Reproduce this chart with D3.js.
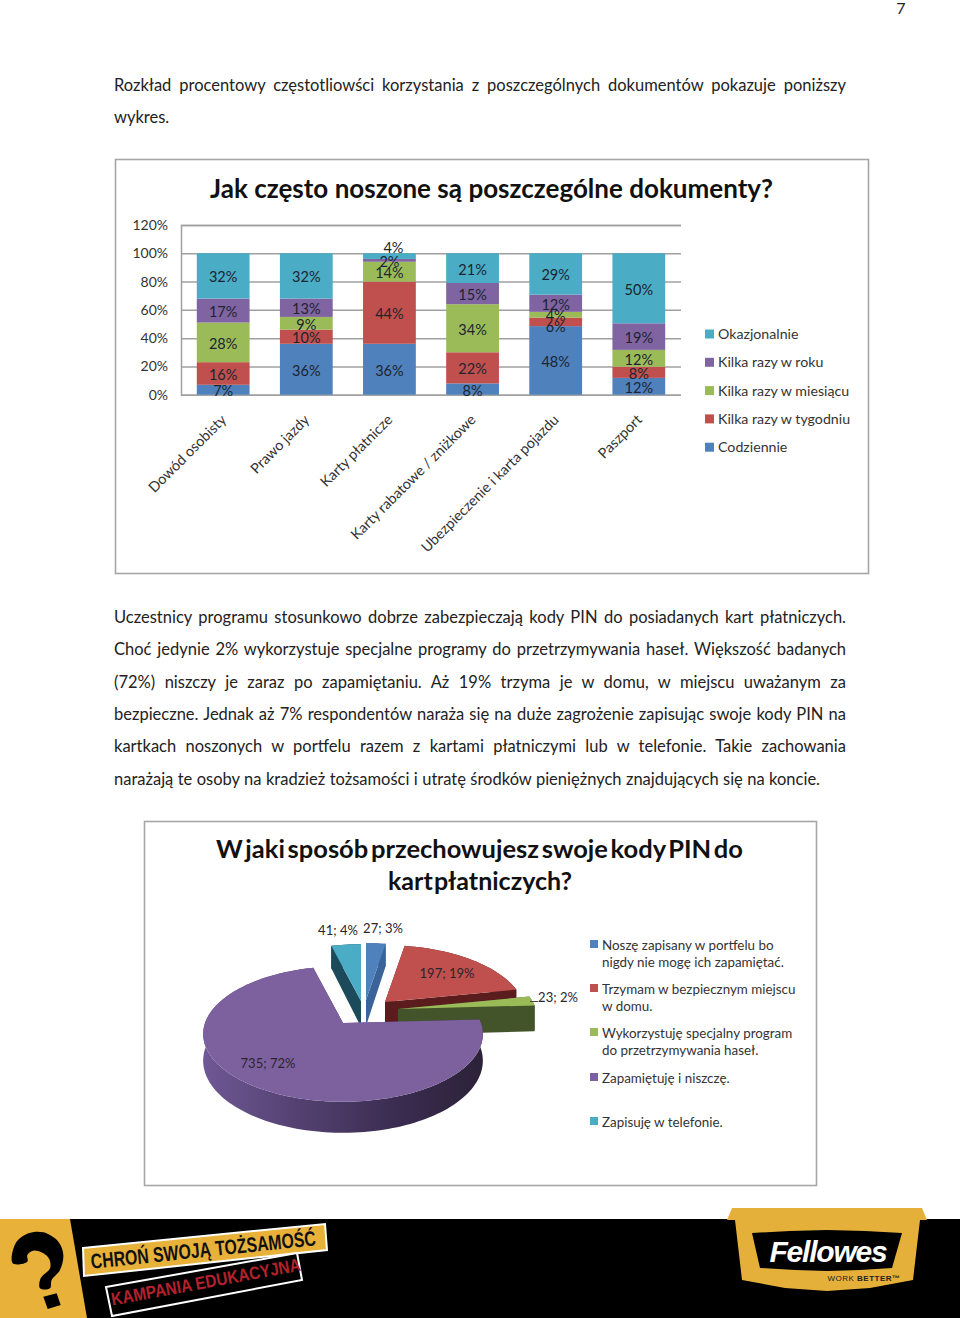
<!DOCTYPE html>
<html><head><meta charset="utf-8">
<script src="https://cdn.jsdelivr.net/npm/d3@7"></script>
<style>html,body{margin:0;padding:0;background:#fff}svg{display:block}text{font-family:Lato,sans-serif}</style>
</head><body><svg id="c" width="960" height="1318"></svg>
<script>
// ---- data
const categories = ["Dowód osobisty","Prawo jazdy","Karty płatnicze","Karty rabatowe / zniżkowe","Ubezpieczenie i karta pojazdu","Paszport"];
const seriesNames = ["Codziennie","Kilka razy w tygodniu","Kilka razy w miesiącu","Kilka razy w roku","Okazjonalnie"];
const codziennie = [7,36,36,8,48,12];
const tygodniu = [16,10,44,22,6,8];
const miesiacu = [28,9,14,34,4,12];
const roku = [17,13,2,15,12,19];
const okazjonalnie = [32,32,4,21,29,50];
const barColors = ["#4f81bd","#c0504d","#9bbb59","#8064a2","#4bacc6"];
const yTicks = [0,0.2,0.4,0.6,0.8,1,1.2];

const pieLabels = ["Noszę zapisany w portfelu bo nigdy nie mogę ich zapamiętać.","Trzymam w bezpiecznym miejscu w domu.","Wykorzystuję specjalny program do przetrzymywania haseł.","Zapamiętuję i niszczę.","Zapisuję w telefonie."];
const pieValues = [27,197,23,735,41];
const piePercents = [3,19,2,72,4];
const pieColors = ["#4f81bd","#c0504d","#9bbb59","#7d619f","#4bacc6"];
const pieWalls = ["#3a6399","#5a1c1c","#44542a","url(#pw)","#1c4a5a"];

const para1 = [["Rozkład procentowy częstotliowści korzystania z poszczególnych dokumentów pokazuje poniższy",846],["wykres.",170]];
const para2 = [["Uczestnicy programu stosunkowo dobrze zabezpieczają kody PIN do posiadanych kart płatniczych.",846],
["Choć jedynie 2% wykorzystuje specjalne programy do przetrzymywania haseł. Większość badanych",846],
["(72%) niszczy je zaraz po zapamiętaniu. Aż 19% trzyma je w domu, w miejscu uważanym za",846],
["bezpieczne. Jednak aż 7% respondentów naraża się na duże zagrożenie zapisując swoje kody PIN na",846],
["kartkach noszonych w portfelu razem z kartami płatniczymi lub w telefonie. Takie zachowania",846],
["narażają te osoby na kradzież tożsamości i utratę środków pieniężnych znajdujących się na koncie.",820]];

// ---- helpers
const svg = d3.select("#c");
function fit(sel, x0, x1){ // word-space a line so that it spans x0..x1
  const n = sel.text().split(" ").length-1;
  const w = sel.node().getComputedTextLength();
  if(n>0) sel.attr("word-spacing",((x1-x0)-w)/n);
}
function bodyLines(lines, ys){
  lines.forEach((l,i)=>{
    const t = svg.append("text").attr("x",114).attr("y",ys[i]).attr("font-size",16.5).attr("fill","#222").text(l[0]);
    fit(t,114,l[1]);
  });
}
svg.append("text").attr("x",901).attr("y",14).attr("text-anchor","middle").attr("font-size",16).attr("fill","#222").text("7");
bodyLines(para1,[91,123]);
bodyLines(para2,[623,655,688,720,752,785]);

// ---- frames
[[115.5,159.5,753,414],[144.5,821.5,672,364]].forEach(f=>
  svg.append("rect").attr("x",f[0]).attr("y",f[1]).attr("width",f[2]).attr("height",f[3]).attr("fill","#fff").attr("stroke","#a6a6a6").attr("stroke-width",1.6));

// ---- stacked bars
const title1 = svg.append("text").attr("x",210).attr("y",198).attr("font-size",26).attr("font-weight",700).attr("fill","#111").text("Jak często noszone są poszczególne dokumenty?");
fit(title1,210,773);

const x = d3.scaleBand().domain(categories).range([181,681]).paddingInner(0.365).paddingOuter(0.19);
const y = d3.scaleLinear().domain([0,1.2]).range([394.7,225]);
const rows = categories.map((c,i)=>({cat:c,[seriesNames[0]]:codziennie[i],[seriesNames[1]]:tygodniu[i],[seriesNames[2]]:miesiacu[i],[seriesNames[3]]:roku[i],[seriesNames[4]]:okazjonalnie[i]}));
const stack = d3.stack().keys(seriesNames).offset(d3.stackOffsetExpand)(rows);

const gy = svg.append("g").attr("transform","translate(181,0)").call(d3.axisLeft(y).tickValues(yTicks).tickFormat(d3.format(".0%")).tickSize(-500).tickPadding(13));
gy.select(".domain").attr("stroke","#a0a0a0").attr("stroke-width",1.5);
gy.selectAll("line").attr("stroke","#a0a0a0").attr("stroke-width",1.5);
gy.selectAll("text").attr("font-size",14).attr("fill","#333").style("font-family","Lato");

stack.forEach((s,si)=>{
  const g = svg.append("g");
  g.selectAll("rect").data(s).join("rect").attr("x",d=>x(d.data.cat)).attr("width",x.bandwidth())
    .attr("y",d=>y(d[1])).attr("height",d=>y(d[0])-y(d[1])).attr("fill",barColors[si]);
});
// labels that were hand-placed in the original chart
const labelNudge = {"4|2":-9.5,"1|4":4};
const labelNudgeX = {"4|2":4};
stack.forEach((s,si)=>{
  svg.append("g").selectAll("text").data(s).join("text")
    .attr("x",(d,i)=>x(d.data.cat)+x.bandwidth()/2+(labelNudgeX[si+"|"+i]||0))
    .attr("y",(d,i)=>(y(d[0])+y(d[1]))/2+6.5+(labelNudge[si+"|"+i]||0))
    .attr("text-anchor","middle").attr("font-size",14.5).attr("fill","#1c2430")
    .text(d=>d.data[s.key]+"%");
});
const gx = svg.append("g").attr("transform","translate(0,394.7)").call(d3.axisBottom(x).tickSize(0).tickPadding(0));
gx.select(".domain").remove();
gx.selectAll("text").attr("font-size",14.4).attr("fill","#333").style("font-family","Lato").attr("text-anchor","end").attr("dy",0).attr("y",0).attr("x",0)
  .attr("transform","translate(4,26) rotate(-45)");

const legendOrder = seriesNames.map((n,i)=>({n,c:barColors[i]})).reverse();
const lg = svg.append("g");
legendOrder.forEach((d,i)=>{
  const yy = 334+i*28.3;
  lg.append("rect").attr("x",705).attr("y",yy-4.5).attr("width",9).attr("height",9).attr("fill",d.c);
  lg.append("text").attr("x",718).attr("y",yy+5).attr("font-size",14.2).attr("fill","#333").text(d.n);
});

// ---- exploded 3D pie
const defs = svg.append("defs");
const grad = defs.append("linearGradient").attr("id","pw");
[[0,"#6f5894"],[0.35,"#534070"],[0.7,"#3a2c50"],[1,"#2c2238"]].forEach(s=>grad.append("stop").attr("offset",s[0]).attr("stop-color",s[1]));

const title2a = svg.append("text").attr("x",216).attr("y",858).attr("font-size",25.5).attr("font-weight",700).attr("fill","#111").text("W jaki sposób przechowujesz swoje kody PIN do");
fit(title2a,216,743);
const title2b = svg.append("text").attr("x",388).attr("y",890).attr("font-size",25).attr("font-weight",700).attr("fill","#111").text("kart płatniczych?");
fit(title2b,388,572);

const pie = d3.pie().sort(null)(pieValues);
const Rx=138, Ry=66, K=0.162, H=26;
const apex = [[366,1000],[385,1002],[398,1009],[343,1023],[361,1001]];
const proj=(a,t,h)=>{const u=Math.sin(t),v=-Math.cos(t),w=1-K*v;return [a[0]+Rx*u/w,a[1]+Ry*v/w+h/w];};
const line=d3.line();
const angles=(d)=>{const n=Math.max(2,Math.ceil((d.endAngle-d.startAngle)/0.03));return d3.range(n+1).map(i=>d.startAngle+(d.endAngle-d.startAngle)*i/n);};
const gp = svg.append("g");
[4,0,1,2,3].forEach(i=>{
  const d=pie[i],a=apex[i],ts=angles(d);
  const top=ts.map(t=>proj(a,t,0)), bot=ts.map(t=>proj(a,t,H));
  const ab=[a[0],a[1]+H];
  gp.append("path").attr("d",line([a,ab,bot[0],top[0]])+"Z").attr("fill",pieWalls[i]);
  gp.append("path").attr("d",line([a,ab,bot[bot.length-1],top[top.length-1]])+"Z").attr("fill",pieWalls[i]);
  gp.append("path").attr("d",line(top.concat(bot.slice().reverse()))+"Z").attr("fill",pieWalls[i]);
  gp.append("path").attr("d",line([a].concat(top))+"Z").attr("fill",pieColors[i]);
});
const pieLabelPos=[[383,933],[447,978],[558,1002],[268,1068],[338,935]];
pieValues.forEach((v,i)=>{
  svg.append("text").attr("x",pieLabelPos[i][0]).attr("y",pieLabelPos[i][1]).attr("text-anchor","middle").attr("font-size",13).attr("fill","#2a2430").text(v+"; "+piePercents[i]+"%");
});
svg.append("line").attr("x1",530).attr("x2",538).attr("y1",1001.5).attr("y2",1001.5).attr("stroke","#444").attr("stroke-width",1);

const pieLegendLines=[["Noszę zapisany w portfelu bo","nigdy nie mogę ich zapamiętać."],["Trzymam w bezpiecznym miejscu","w domu."],["Wykorzystuję specjalny program","do przetrzymywania haseł."],["Zapamiętuję i niszczę."],["Zapisuję w telefonie."]];
const pieLegendY=[945,989,1033,1078,1122];
pieLabels.forEach((n,i)=>{
  svg.append("rect").attr("x",590).attr("y",pieLegendY[i]-5).attr("width",8).attr("height",8).attr("fill",pieColors[i]);
  pieLegendLines[i].forEach((l,j)=>svg.append("text").attr("x",602).attr("y",pieLegendY[i]+4.5+j*17.5).attr("font-size",13.4).attr("fill","#333").text(l));
});

// ---- footer
svg.append("rect").attr("x",0).attr("y",1219).attr("width",960).attr("height",99).attr("fill","#000");
const poly=(pts,fill,stroke)=>svg.append("path").attr("d",line(pts)+"Z").attr("fill",fill).attr("stroke",stroke||"none").attr("stroke-width",stroke?2:0);
poly([[0,1219],[70,1219],[87,1318],[0,1318]],"#e8b23a");
// question-mark emblem of the campaign logo
const z3=p=>[p[0]/3,1200+p[1]/3];
svg.append("path").attr("fill","#000").attr("d",d3.line().curve(d3.curveCatmullRomClosed)([[38,190],[47,130],[85,100],[130,97],[175,125],[190,165],[180,210],[155,240],[150,265],[120,265],[122,235],[150,205],[148,178],[130,160],[100,152],[82,165],[82,185]].map(z3)));
poly([[130,290],[170,280],[182,315],[143,327]].map(z3),"#000");
poly([[83,1248],[325,1224],[327,1250],[84,1276]],"#e8b23a","#fff");
poly([[106,1287],[297,1253],[302,1280],[112,1316]],"#000","#fff");
svg.append("text").attr("transform","translate(204,1257) rotate(-6)").attr("text-anchor","middle").attr("font-size",21).attr("font-weight",700).attr("textLength",226).attr("lengthAdjust","spacingAndGlyphs").style("font-family","'Liberation Sans'").attr("fill","#111").text("CHROŃ SWOJĄ TOŻSAMOŚĆ");
svg.append("text").attr("transform","translate(207,1288) rotate(-10.5)").attr("text-anchor","middle").attr("font-size",18).attr("font-weight",700).attr("textLength",192).attr("lengthAdjust","spacingAndGlyphs").style("font-family","'Liberation Sans'").attr("fill","#b5202c").text("KAMPANIA EDUKACYJNA");
poly([[727,1220],[732,1208],[922,1208],[927,1220],[920,1220],[913,1280],[870,1288],[827,1291],[785,1288],[742,1280],[735,1220]],"#e5b03a");
poly([[752,1233],[790,1231],[827,1230],[865,1231],[902,1233],[892,1268],[860,1270],[827,1271],[795,1270],[760,1268]],"#000");
svg.append("text").attr("x",828).attr("y",1262).attr("text-anchor","middle").attr("font-size",30).attr("font-weight",700).attr("font-style","italic").attr("letter-spacing",-1.2).style("font-family","'Liberation Sans'").attr("fill","#fff").text("Fellowes");
const wb=svg.append("text").attr("x",864).attr("y",1281).attr("text-anchor","middle").attr("font-size",8).attr("letter-spacing",0.5).style("font-family","'Liberation Sans'").attr("fill","#222");
wb.append("tspan").text("WORK ");
wb.append("tspan").attr("font-weight",700).text("BETTER™");
</script></body></html>
